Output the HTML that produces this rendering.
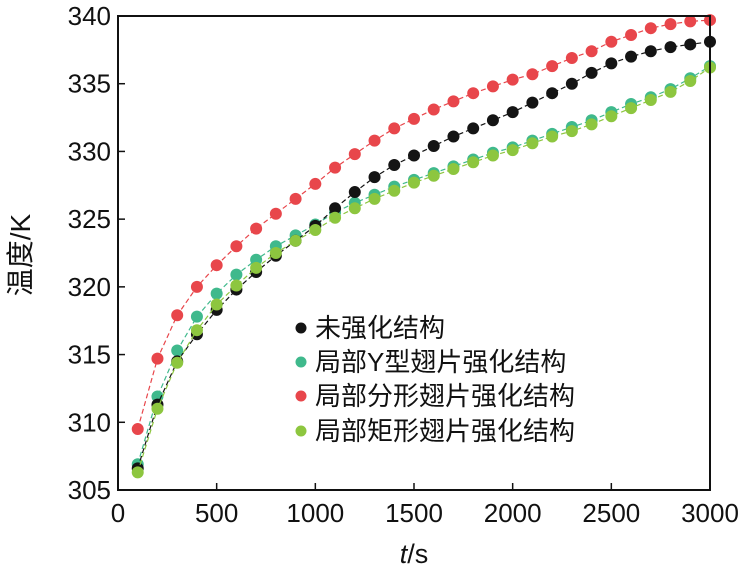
<!DOCTYPE html>
<html><head><meta charset="utf-8"><style>
body{margin:0;background:#fff;}
svg{display:block;font-family:"Liberation Sans","Noto Sans CJK SC",sans-serif;}
</style></head><body>
<svg id="chart" width="748" height="572" viewBox="0 0 748 572"></svg>
<script>
const xValues=[100,200,300,400,500,600,700,800,900,1000,1100,1200,1300,1400,1500,1600,1700,1800,1900,2000,2100,2200,2300,2400,2500,2600,2700,2800,2900,3000];
const seriesBase=[306.6,311.3,314.5,316.5,318.3,319.8,321.1,322.3,323.4,324.5,325.8,327.0,328.1,329.0,329.7,330.4,331.1,331.7,332.3,332.9,333.6,334.3,335.0,335.8,336.5,337.0,337.4,337.7,337.9,338.1];
const seriesY=[306.9,311.9,315.3,317.8,319.5,320.9,322.0,323.0,323.8,324.6,325.5,326.2,326.8,327.4,327.9,328.4,328.9,329.4,329.9,330.3,330.8,331.3,331.8,332.3,332.9,333.5,334.0,334.6,335.4,336.3];
const seriesFractal=[309.5,314.7,317.9,320.0,321.6,323.0,324.3,325.4,326.5,327.6,328.8,329.8,330.8,331.7,332.4,333.1,333.7,334.3,334.8,335.3,335.7,336.3,336.9,337.4,338.1,338.6,339.1,339.4,339.6,339.7];
const seriesRect=[306.3,311.0,314.4,316.8,318.7,320.1,321.4,322.5,323.4,324.2,325.1,325.8,326.5,327.1,327.7,328.2,328.7,329.2,329.7,330.1,330.6,331.1,331.5,332.0,332.6,333.2,333.8,334.4,335.2,336.2];
const xTicks=[0,500,1000,1500,2000,2500,3000];
const yTicks=[305,310,315,320,325,330,335,340];
const legendLabels=["未强化结构","局部Y型翅片强化结构","局部分形翅片强化结构","局部矩形翅片强化结构"];

const NS="http://www.w3.org/2000/svg";
const svg=document.getElementById('chart');
const L=118,R=710,T=16,B=490;
const sx=v=>L+(v-0)/3000*(R-L);
const sy=v=>B-(v-305)/35*(B-T);
function mk(tag,attrs,parent){const e=document.createElementNS(NS,tag);for(const k in attrs)e.setAttribute(k,attrs[k]);(parent||svg).appendChild(e);return e;}

const series=[
 {d:seriesBase,c:"#141414",n:"series-unreinforced"},
 {d:seriesY,c:"#3fb98c",n:"series-y-fin"},
 {d:seriesFractal,c:"#e8464b",n:"series-fractal-fin"},
 {d:seriesRect,c:"#8dc63f",n:"series-rect-fin"}
];
const drawOrder=[2,1,0,3];
drawOrder.forEach(i=>{
 const s=series[i];
 const g=mk('g',{});
 
 
 const pts=xValues.map((x,j)=>sx(x).toFixed(1)+","+sy(s.d[j]).toFixed(1)).join(" ");
 const pl=mk('polyline',{points:pts,fill:"none",stroke:s.c,"stroke-width":1.2,"stroke-dasharray":"5,3"},g);
 
 
 xValues.forEach((x,j)=>{
  const c=mk('circle',{cx:sx(x),cy:sy(s.d[j]),r:6,fill:s.c},g);
  
  
 });
});

const frame=mk('rect',{x:L,y:T,width:R-L,height:B-T,fill:"none",stroke:"#111","stroke-width":2});



xTicks.forEach(v=>{
 const t=mk('line',{x1:sx(v),x2:sx(v),y1:B,y2:B-7,stroke:"#111","stroke-width":1.5});
 
 
 const lb=mk('text',{x:sx(v),y:B+32,"text-anchor":"middle","font-size":26,fill:"#111"});
 lb.textContent=v;
 
 
});
yTicks.forEach(v=>{
 const t=mk('line',{x1:L,x2:L+7,y1:sy(v),y2:sy(v),stroke:"#111","stroke-width":1.5});
 
 
 const lb=mk('text',{x:L-7,y:sy(v)+9,"text-anchor":"end","font-size":26,fill:"#111"});
 lb.textContent=v;
 
 
});

const yt=mk('text',{x:0,y:0,transform:"translate(30,255) rotate(-90)","text-anchor":"middle","font-size":28,fill:"#111"});
yt.textContent="温度/K";



const xt=mk('text',{x:414,y:563,"text-anchor":"middle","font-size":27,fill:"#111"});
xt.innerHTML='<tspan font-style="italic">t</tspan>/s';



const legY=[328,362,396,431];
const legC=["#141414","#3fb98c","#e8464b","#8dc63f"];
legendLabels.forEach((lab,i)=>{
 const g=mk('g',{});
 
 
 mk('circle',{cx:301,cy:legY[i],r:5.5,fill:legC[i]},g);
 const tx=mk('text',{x:315,y:legY[i]+9,"font-size":26,fill:"#111"},g);
 tx.textContent=lab;
});
</script>
</body></html>
